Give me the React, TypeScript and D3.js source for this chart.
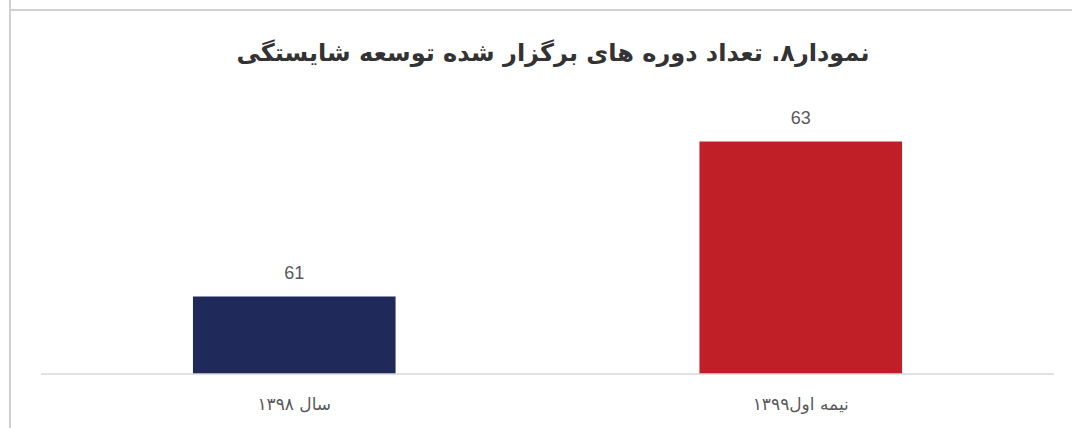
import React from "react";
import * as d3 from "d3";

const categories = ["سال ۱۳۹۸", "نیمه اول۱۳۹۹"];
const values = [61, 63];
const colors = ["#1f2a5a", "#c01f27"];
const title = "نمودار۸. تعداد دوره های برگزار شده توسعه شایستگی";

export default function App() {
  const W = 1072, H = 428;
  const left = 41, right = 1054, baseY = 374, topY = 64;
  const x = d3.scaleBand<string>().domain(categories).range([left, right]).paddingInner(0.6).paddingOuter(0.3);
  const y = d3.scaleLinear().domain([60, 64]).range([baseY, topY]);
  return (
    <svg width={W} height={H} style={{ position: "absolute", left: 0, top: 0, background: "#fff" }}>
      <rect x={0} y={0} width={W} height={H} fill="#fff" />
      <line x1={10} y1={0} x2={10} y2={H} stroke="#d0d0d0" strokeWidth={2} />
      <line x1={10} y1={10} x2={W} y2={10} stroke="#d0d0d0" strokeWidth={2} />
      <text x={553} y={61} textAnchor="middle" direction="rtl" fontFamily="DejaVu Sans" fontWeight="bold" fontSize={24} fill="#333">{title}</text>
      {categories.map((c, i) => (
        <g key={c}>
          <rect x={x(c)} y={y(values[i])} width={x.bandwidth()} height={baseY - y(values[i])} fill={colors[i]} />
          <text x={(x(c) as number) + x.bandwidth() / 2} y={y(values[i]) - 18} textAnchor="middle" fontFamily="Liberation Sans, Arial" fontSize={18} fill="#595959">{values[i]}</text>
          <text x={(x(c) as number) + x.bandwidth() / 2} y={410} textAnchor="middle" direction="rtl" fontFamily="DejaVu Sans" fontSize={17} fill="#595959">{c}</text>
        </g>
      ))}
      <line x1={left} y1={baseY} x2={right} y2={baseY} stroke="#d9d9d9" strokeWidth={1.5} />
    </svg>
  );
}
